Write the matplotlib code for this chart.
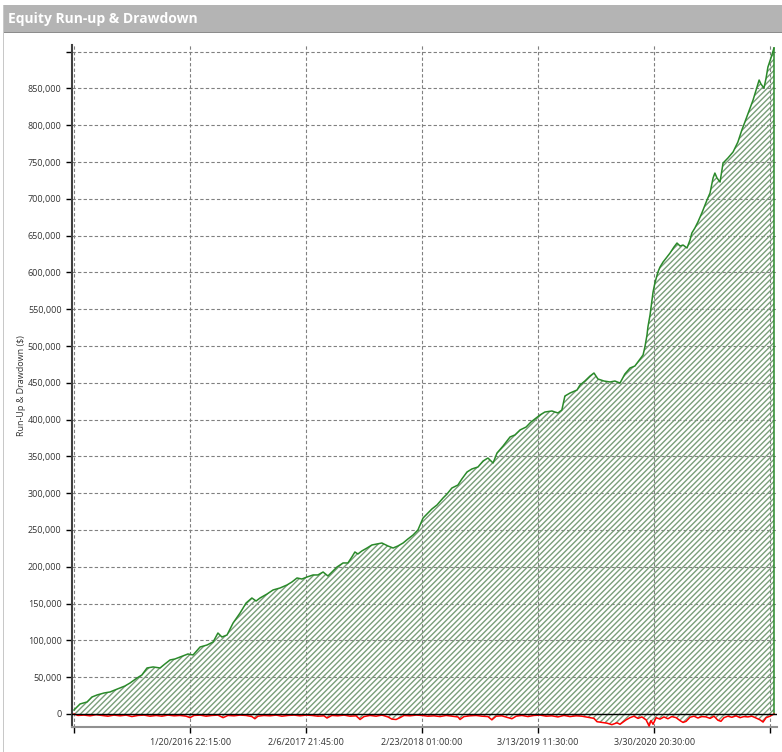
import datetime
import matplotlib
matplotlib.use('Agg')
import matplotlib.pyplot as plt
from matplotlib.patches import Rectangle
from matplotlib.ticker import FuncFormatter

plt.rcParams['font.family'] = ['Open Sans', 'DejaVu Sans']

# days since the first trade, and equity run-up in $ (thousands)
eq_day = [0, 20, 43, 59, 76, 99, 119, 135, 152, 168, 185, 208, 224, 241, 261, 284, 300,
          317, 333, 350, 376, 393, 416, 439, 459, 475, 488, 505, 525, 548, 568, 587, 601,
          614, 637, 657, 680, 703, 719, 736, 752, 769, 789, 805, 822, 838, 855, 868, 888,
          904, 917, 927, 937, 950, 967, 983, 1000, 1016, 1036, 1053, 1069, 1086, 1102, 1119,
          1135, 1152, 1165, 1181, 1198, 1218, 1231, 1247, 1267, 1280, 1297, 1313, 1333, 1350,
          1366, 1383, 1396, 1416, 1439, 1455, 1472, 1492, 1508, 1525, 1538, 1554, 1577, 1597,
          1610, 1620, 1637, 1660, 1670, 1686, 1703, 1716, 1729, 1749, 1769, 1785, 1802, 1818,
          1835, 1851, 1868, 1878, 1884, 1891, 1894, 1901, 1904, 1911, 1917, 1927, 1934, 1944,
          1957, 1967, 1980, 1990, 2000, 2010, 2023, 2033, 2039, 2049, 2059, 2072, 2089, 2099,
          2109, 2115, 2122, 2132, 2142, 2158, 2175, 2191, 2204, 2214, 2231, 2241, 2251, 2261,
          2267, 2277, 2284, 2290, 2300, 2310]
runup = [5.4, 13.6, 16.3, 23.0, 25.8, 28.5, 29.9, 32.6, 35.3, 38.0, 42.1, 48.9, 53.0, 62.5,
         63.9, 62.5, 67.9, 73.4, 74.7, 77.4, 81.5, 80.2, 91.0, 93.7, 97.8, 110.0, 104.6, 107.3,
         123.6, 137.2, 150.8, 157.6, 153.5, 157.6, 163.0, 168.5, 171.2, 175.3, 179.3, 184.8,
         183.4, 186.1, 188.9, 188.9, 192.9, 187.5, 194.3, 199.7, 205.2, 205.2, 213.3, 220.1,
         217.4, 221.5, 225.5, 229.6, 231.0, 232.3, 228.3, 225.5, 228.3, 232.3, 237.8, 243.2,
         250.0, 266.3, 271.7, 278.5, 284.0, 293.5, 298.9, 307.0, 311.1, 319.3, 328.8, 332.9,
         335.6, 343.7, 347.8, 341.0, 354.6, 364.1, 376.4, 379.1, 385.9, 389.9, 396.7, 402.2,
         406.3, 410.3, 411.7, 409.0, 413.0, 432.0, 436.1, 440.2, 447.0, 452.4, 459.2, 463.3,
         455.2, 452.4, 451.1, 452.4, 449.7, 462.0, 470.1, 472.8, 482.3, 487.8, 498.6, 515.0,
         525.8, 542.1, 551.6, 573.4, 585.6, 600.5, 607.3, 614.1, 620.9, 626.3, 634.5, 639.9,
         635.9, 637.2, 633.2, 644.0, 653.5, 660.3, 668.5, 680.7, 698.4, 707.9, 728.3, 735.0,
         728.3, 722.8, 748.6, 755.4, 763.6, 777.2, 793.5, 804.3, 823.4, 834.2, 847.8, 861.4,
         856.0, 850.5, 864.1, 879.0, 891.3, 904.9]

# drawdown in $ (thousands)
dd_day = [0, 13, 33, 53, 73, 92, 112, 132, 152, 172, 191, 211, 231, 251, 271, 290, 310, 330,
          350, 370, 383, 396, 416, 436, 455, 475, 492, 508, 528, 548, 568, 587, 597, 607, 627,
          647, 667, 686, 706, 726, 746, 766, 785, 805, 825, 835, 851, 871, 891, 911, 931, 944,
          957, 977, 997, 1016, 1036, 1049, 1063, 1076, 1089, 1109, 1129, 1148, 1168, 1188,
          1208, 1228, 1247, 1267, 1274, 1287, 1307, 1327, 1346, 1366, 1379, 1393, 1412, 1432,
          1445, 1459, 1478, 1498, 1518, 1538, 1558, 1577, 1597, 1617, 1637, 1657, 1676, 1696,
          1716, 1726, 1742, 1759, 1775, 1792, 1802, 1812, 1822, 1835, 1848, 1861, 1874, 1888,
          1898, 1904, 1911, 1921, 1934, 1947, 1960, 1973, 1987, 2000, 2010, 2020, 2033, 2046,
          2059, 2072, 2086, 2099, 2112, 2125, 2135, 2145, 2158, 2171, 2185, 2198, 2211, 2224,
          2237, 2251, 2264, 2274, 2284, 2297, 2310]
drawdown = [0, -2.0, -1.5, -2.5, -1.0, -2.0, -3.0, -1.5, -2.5, -1.5, -3.5, -2.0, -1.5, -3.0,
            -2.0, -3.0, -1.5, -2.5, -2.0, -3.0, -5.0, -2.0, -1.5, -3.0, -2.0, -1.5, -5.0, -2.0,
            -2.5, -1.5, -2.0, -3.5, -6.5, -3.0, -2.0, -2.5, -1.5, -3.0, -2.0, -1.5, -2.5, -1.5,
            -2.0, -3.0, -2.5, -5.5, -2.0, -2.5, -1.5, -3.0, -2.5, -7.5, -3.5, -2.0, -3.0, -1.5,
            -4.0, -7.0, -7.5, -5.0, -2.0, -2.5, -1.5, -2.0, -3.0, -2.5, -3.5, -2.0, -3.0, -4.0,
            -7.5, -3.5, -2.5, -2.0, -3.0, -3.5, -8.0, -3.0, -2.5, -5.0, -6.5, -3.0, -2.0, -3.5,
            -2.0, -1.5, -3.0, -2.5, -4.0, -2.0, -3.5, -2.5, -3.0, -4.5, -6.0, -10.5, -11.5,
            -12.5, -14.5, -12.0, -14.0, -11.0, -8.0, -5.0, -3.0, -6.0, -4.0, -8.0, -16.5, -9.0,
            -14.0, -5.0, -7.0, -4.0, -6.5, -3.5, -5.0, -9.0, -11.5, -10.0, -4.5, -3.0, -5.5,
            -3.5, -4.0, -6.0, -3.0, -8.5, -10.0, -5.0, -3.0, -4.5, -2.5, -5.0, -3.5, -4.0, -3.0,
            -5.5, -8.0, -11.0, -5.0, -3.0, 0]

start = datetime.datetime(2015, 1, 2, 3, 0)
tick_dates = [datetime.datetime(2015, 1, 2, 3, 0), datetime.datetime(2016, 1, 20, 22, 15),
              datetime.datetime(2017, 2, 6, 21, 45), datetime.datetime(2018, 2, 23, 1, 0),
              datetime.datetime(2019, 3, 13, 11, 30), datetime.datetime(2020, 3, 30, 20, 30),
              datetime.datetime(2021, 4, 18, 6, 0)]
tick_labels = ['', '1/20/2016 22:15:00', '2/6/2017 21:45:00', '2/23/2018 01:00:00',
               '3/13/2019 11:30:00', '3/30/2020 20:30:00', '']

eq_x = [start + datetime.timedelta(days=d) for d in eq_day]
eq_y = [v * 1000 for v in runup]
dd_x = [start + datetime.timedelta(days=d) for d in dd_day]
dd_y = [v * 1000 for v in drawdown]

fig = plt.figure(figsize=(7.82, 7.52), dpi=100)
fig.patch.set_facecolor('white')

# title bar
fig.patches.append(Rectangle((4 / 782, 1 - 32 / 752), 778 / 782, 27 / 752,
                             transform=fig.transFigure, facecolor='#b4b4b4',
                             edgecolor='none', zorder=0))
fig.patches.append(Rectangle((4 / 782, 1 - 33 / 752), 778 / 782, 1.5 / 752,
                             transform=fig.transFigure, facecolor='#8c8c8c',
                             edgecolor='none', zorder=0))
fig.patches.append(Rectangle((3 / 782, 0), 1 / 782, 1 - 5 / 752,
                             transform=fig.transFigure, facecolor='#c8c8c8',
                             edgecolor='none', zorder=0))
fig.text(8 / 782, 1 - 19 / 752, 'Equity Run-up & Drawdown', color='white',
         fontsize=10, fontweight='bold', va='center', ha='left')

ax = fig.add_axes([72 / 782, 1 - 727 / 752, 705 / 782, 682 / 752])
ax.set_facecolor('none')

hatch_col = '#7a9e7a'
ax.fill_between(eq_x, 0, eq_y, facecolor='none', edgecolor=hatch_col, hatch='//////',
                linewidth=0, zorder=1)
ax.fill_between(dd_x, 0, dd_y, facecolor='none', edgecolor=hatch_col, hatch='//////',
                linewidth=0, zorder=1)
ax.plot(eq_x, eq_y, color='#2a8a2a', linewidth=1.1, zorder=3)
ax.plot([eq_x[-1], eq_x[-1]], [0, eq_y[-1]], color='#2a8a2a', linewidth=1.1, zorder=3)
ax.plot(dd_x, dd_y, color='#ff0000', linewidth=1.1, zorder=3)
ax.axhline(0, color='black', linewidth=1, zorder=4)

ax.set_xlim(start - datetime.timedelta(days=6.6), start + datetime.timedelta(days=2320))
ax.set_ylim(-17700, 909000)

ax.set_yticks(range(0, 900001, 50000))
ax.yaxis.set_major_formatter(FuncFormatter(
    lambda v, p: '' if v >= 900000 else '{:,.0f}'.format(v)))
ax.set_xticks(tick_dates)
ax.set_xticklabels(tick_labels)

ax.grid(True, color='#808080', linestyle=(0, (3, 2)), linewidth=0.8)
ax.set_axisbelow(True)
for s in ['top', 'right']:
    ax.spines[s].set_visible(False)
ax.spines['left'].set_color('#404040')
ax.spines['left'].set_linewidth(1.5)
ax.spines['bottom'].set_color('#909090')
ax.spines['bottom'].set_linewidth(1.5)
ax.tick_params(axis='both', direction='out', length=4, width=1, color='black',
               labelsize=6.5, labelcolor='#333333')
ax.tick_params(axis='x', pad=4)
ax.set_ylabel('Run-Up & Drawdown ($)', fontsize=6.5, color='#333333', labelpad=1)

fig.savefig('out.png', dpi=100)
